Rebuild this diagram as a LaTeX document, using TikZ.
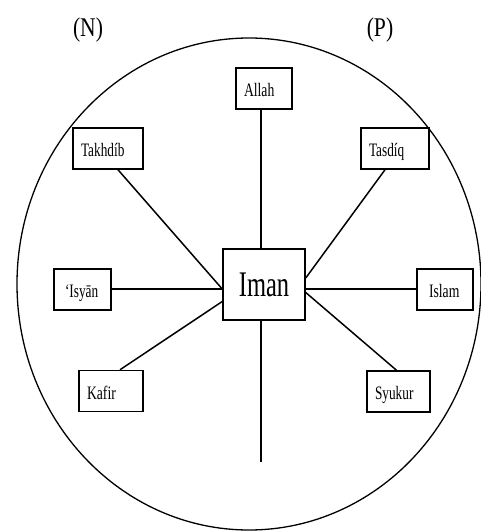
\documentclass[tikz,border=0pt]{standalone}
\usepackage{fontspec}
\setmainfont{Liberation Serif}
\usepackage{graphicx}
\begin{document}
\begin{tikzpicture}[x=1pt,y=-1pt,
  box/.style={draw,line width=1.5pt,inner xsep=8pt,inner ysep=0pt,minimum height=41pt,
    align=left,text height=20pt,text depth=4pt,font=\fontsize{19}{19}\selectfont},
  link/.style={line width=1.5pt},
  side/.style={font=\fontsize{27}{27}\selectfont}]
\useasboundingbox (0,0) rectangle (481,532);
\draw[line width=1.3pt] (249,284) ellipse [x radius=232pt, y radius=246pt];
\node[side] (N) at (88,30) {\scalebox{0.8}[1]{(N)}};
\node[side] (P) at (380,30) {\scalebox{0.8}[1]{(P)}};
\node[draw,line width=1.5pt,minimum width=82pt,minimum height=71pt,inner sep=0pt,
  font=\fontsize{36}{36}\selectfont] (iman) at (264,284.5) {\scalebox{0.68}[1]{Iman}};
\node[box,text width=40pt] (allah) at (264,88.5) {\scalebox{0.72}[1]{Allah}};
\node[box,text width=54pt] (takhdib) at (108,148.5) {\scalebox{0.7}[1]{Takhdíb}};
\node[box,text width=52pt] (tasdiq) at (395,148.5) {\scalebox{0.7}[1]{Tasdíq}};
\node[box,text width=41pt] (isyan) at (82.5,289.5) {\hspace*{3pt}\scalebox{0.7}[1]{‘Isyān}};
\node[box,text width=40pt] (islam) at (445,289.5) {\hspace*{4pt}\scalebox{0.72}[1]{Islam}};
\node[box,text width=48pt] (kafir) at (111,391) {\scalebox{0.72}[1]{Kafir}};
\node[box,text width=47pt] (syukur) at (398.5,391.5) {\scalebox{0.7}[1]{Syukur}};
\coordinate (bottomend) at (261,462);
\draw[link] ([xshift=-3pt]allah.south) -- ([xshift=-3pt]iman.north);
\draw[link] ([xshift=-3pt]iman.south) -- (bottomend);
\draw[link] ([xshift=10pt]takhdib.south) -- ([yshift=-4.5pt]iman.west);
\draw[link] ([xshift=-10pt]tasdiq.south) -- ([yshift=6.5pt]iman.east);
\draw[link] ([yshift=0.5pt]isyan.east) -- ([yshift=0.5pt]iman.west |- isyan.east);
\draw[link] ([yshift=0.5pt]islam.west) -- ([yshift=0.5pt]iman.east |- islam.west);
\draw[link] ([xshift=9pt]kafir.north) -- ([yshift=-17pt]iman.west);
\draw[link] ([xshift=-2pt]syukur.north) -- ([yshift=-8pt]iman.east);
\end{tikzpicture}
\end{document}
